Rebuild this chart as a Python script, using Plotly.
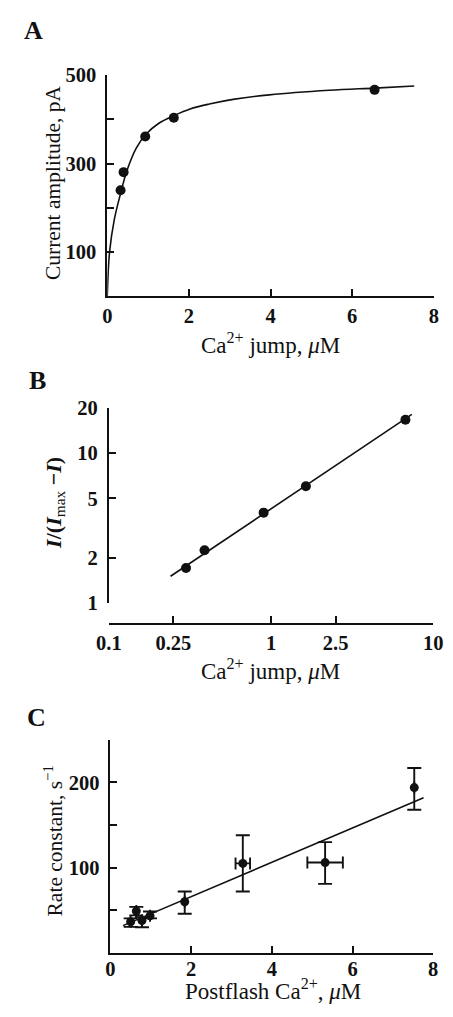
import plotly.graph_objects as go

# ---------------- Panel A data ----------------
a_x = [0.326, 0.40, 0.93, 1.63, 6.55]
a_y = [240, 281, 361.5, 404, 467]
a_fit_x = [0, 0.056, 0.172, 0.326, 0.481, 0.714, 0.947, 1.256, 1.644, 2.03, 2.50, 3.12, 3.97, 5.44, 6.55, 7.52]
a_fit_y = [0, 100, 173.7, 232.5, 284, 335.7, 366.6, 391, 409.3, 424, 435, 446, 455.7, 466, 471, 475.6]
a_xticks = [0, 2, 4, 6, 8]
a_yticks = [100, 300, 500]
a_yminor = [200, 400]

# ---------------- Panel B data ----------------
b_x = [0.299, 0.389, 0.90, 1.64, 6.74]
b_y = [1.71, 2.25, 4.01, 6.02, 16.75]
b_fit_x = [0.24, 7.38]
b_fit_y = [1.508, 18.17]
b_xticks = [0.1, 0.25, 1, 2.5, 10]
b_xticktext = ["0.1", "0.25", "1", "2.5", "10"]
b_yticks = [1, 2, 5, 10, 20]

# ---------------- Panel C data ----------------
c_x = [0.50, 0.64, 0.78, 0.98, 1.84, 3.28, 5.32, 7.53]
c_y = [36.5, 49, 38, 43.5, 60, 105, 106, 194]
c_yerr_plus = [4, 5, 4, 5, 12, 33, 24, 23]
c_yerr_minus = [6, 5, 8, 3, 14, 33, 25, 26]
c_xerr = [0, 0, 0, 0, 0, 0.18, 0.44, 0]
c_fit_x = [0.31, 7.76]
c_fit_y = [32, 182]
c_xticks = [0, 2, 4, 6, 8]
c_yticks = [100, 200]
c_yminor = [50, 150, 250]

W, H = 453, 1017
SERIF = "Liberation Serif"
BLACK = "#111111"


def px(x):
    return x / W


def py(y):
    return 1 - y / H


fig = go.Figure()

mk = dict(color=BLACK, size=10)
ln = dict(color=BLACK, width=1.6)

# A
fig.add_trace(go.Scatter(x=a_fit_x, y=a_fit_y, mode="lines", line=dict(shape="spline", **ln),
                         xaxis="x", yaxis="y", showlegend=False))
fig.add_trace(go.Scatter(x=a_x, y=a_y, mode="markers", marker=mk, xaxis="x", yaxis="y", showlegend=False))
# B
fig.add_trace(go.Scatter(x=b_fit_x, y=b_fit_y, mode="lines", line=ln, xaxis="x2", yaxis="y2", showlegend=False))
fig.add_trace(go.Scatter(x=b_x, y=b_y, mode="markers", marker=mk, xaxis="x2", yaxis="y2", showlegend=False))
# C
fig.add_trace(go.Scatter(x=c_fit_x, y=c_fit_y, mode="lines", line=ln, xaxis="x3", yaxis="y3", showlegend=False))
fig.add_trace(go.Scatter(
    x=c_x, y=c_y, mode="markers", marker=dict(color=BLACK, size=9),
    error_y=dict(type="data", symmetric=False, array=c_yerr_plus, arrayminus=c_yerr_minus,
                 color=BLACK, thickness=1.9, width=7),
    error_x=dict(type="data", array=c_xerr, color=BLACK, thickness=1.9, width=6),
    xaxis="x3", yaxis="y3", showlegend=False))

tickfont = dict(family=SERIF, size=20.5, color=BLACK, weight="bold")
common = dict(showline=True, linecolor=BLACK, linewidth=1.8, ticks="inside", ticklen=7,
              tickwidth=1.6, tickcolor=BLACK, showgrid=False, zeroline=False, tickfont=tickfont)
ycommon = dict(ticklabelstandoff=5, **common)


def minor(vals):
    return dict(tickmode="array", tickvals=vals, ticks="inside", ticklen=7, tickwidth=1.6,
                tickcolor=BLACK, showgrid=False)


fig.update_layout(
    width=W, height=H, margin=dict(l=0, r=0, t=0, b=0),
    paper_bgcolor="white", plot_bgcolor="white",
    xaxis=dict(domain=[px(99.3), px(443.3)], range=[0, 8], tickvals=a_xticks, anchor="y", **common),
    yaxis=dict(domain=[py(291.7), py(65.7)], range=[0, 500], tickvals=a_yticks, minor=minor(a_yminor),
               anchor="x", **ycommon),
    xaxis2=dict(domain=[px(101), px(442.7)], type="log", range=[-1, 1], tickvals=b_xticks,
                ticktext=b_xticktext, anchor="free", position=py(626.7), **common),
    yaxis2=dict(domain=[py(605), py(406)], type="log", range=[0, 1.30103], tickvals=b_yticks,
                anchor="x2", **ycommon),
    xaxis3=dict(domain=[px(102.7), px(442.7)], range=[0, 8], tickvals=c_xticks, anchor="y3",
                ticklabelstandoff=-3, **common),
    yaxis3=dict(domain=[py(962.7), py(745)], range=[0, 250], tickvals=c_yticks, minor=minor(c_yminor),
                anchor="x3", **ycommon),
)

tf = dict(family=SERIF, size=23, color=BLACK)
yf = dict(family=SERIF, size=21.5, color=BLACK)
lf = dict(family=SERIF, size=26, color=BLACK, weight="bold")
ann = [
    dict(text="A", x=px(22), y=py(20), font=lf),
    dict(text="B", x=px(26), y=py(378), font=lf),
    dict(text="C", x=px(25), y=py(722), font=lf),
    dict(text="Ca<sup>2+</sup> jump, <i>μ</i>M", x=px(271), y=py(340), font=tf),
    dict(text="Ca<sup>2+</sup> jump, <i>μ</i>M", x=px(271), y=py(673), font=tf),
    dict(text="Postflash Ca<sup>2+</sup>, <i>μ</i>M", x=px(274), y=py(1017), font=tf, yanchor="bottom"),
    dict(text="Current amplitude, pA", x=px(42), y=py(175), font=yf, textangle=-90),
    dict(text="<b><i>I</i>/(<i>I</i></b><sub>max</sub><b> −<i>I</i>)</b>", x=px(44), y=py(503),
         font=dict(family=SERIF, size=22, color=BLACK), textangle=-90),
    dict(text="Rate constant, s<sup>−1</sup>", x=px(43), y=py(848), font=yf, textangle=-90),
]
for a in ann:
    a.setdefault("yanchor", "middle")
    a.update(xref="paper", yref="paper", showarrow=False, xanchor="center")
fig.update_layout(annotations=ann)

fig.write_html("out.html", config={"displayModeBar": False},
               post_script="document.body.style.margin='0';")
